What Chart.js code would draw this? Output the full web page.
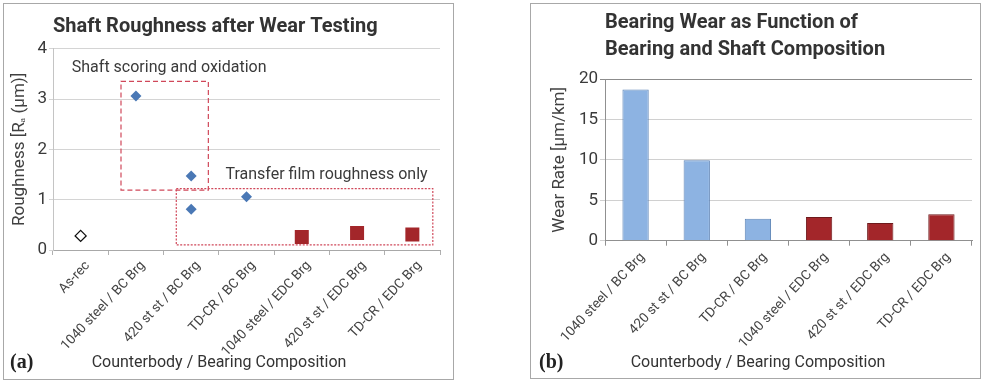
<!DOCTYPE html>
<html>
<head>
<meta charset="utf-8">
<script src="https://cdn.jsdelivr.net/npm/chart.js@4.4.1/dist/chart.umd.min.js"></script>
<style>
  body { margin: 0; width: 983px; height: 383px; background: #fff; position: relative; overflow: hidden; }
  .panel { position: absolute; border: 1px solid #a8a8a8; box-sizing: border-box; }
  #pa { left: 3px; top: 3px; width: 451px; height: 377px; }
  #pb { left: 530px; top: 3px; width: 451px; height: 376px; }
  .wrap { position: absolute; top: 0; height: 383px; }
</style>
</head>
<body>
<div class="panel" id="pa"></div>
<div class="panel" id="pb"></div>
<div class="wrap" style="left:0;width:490px"><canvas id="roughChart"></canvas></div>
<div class="wrap" style="left:490px;width:493px"><canvas id="wearChart"></canvas></div>
<script>
// (a) shaft roughness
const roughLabels = ["As-rec", "1040 steel / BC Brg", "420 st st / BC Brg", "TD-CR / BC Brg",
  "1040 steel / EDC Brg", "420 st st / EDC Brg", "TD-CR / EDC Brg"];
const asRecRough = [0.28, null, null, null, null, null, null];
const bcRough = [null, 3.06, 1.47, 1.06, null, null, null];
const bcRough2 = [null, null, 0.81, null, null, null, null];
const edcRough = [null, null, null, null, 0.26, 0.34, 0.31];
const roughTicks = [0, 1, 2, 3, 4];

// (b) bearing wear
const wearLabels = ["1040 steel / BC Brg", "420 st st / BC Brg", "TD-CR / BC Brg",
  "1040 steel / EDC Brg", "420 st st / EDC Brg", "TD-CR / EDC Brg"];
const wearRate = [18.7, 9.95, 2.72, 2.93, 2.19, 3.27];
const wearTicks = [0, 5, 10, 15, 20];

// dashed boxes on (a), in category index / roughness units
const roughNotes = [
  { text: "Shaft scoring and oxidation", x0: 0.73, x1: 2.31, y0: 1.19, y1: 3.35, tx: -0.16, ty: 3.62, dash: [5, 3] },
  { text: "Transfer film roughness only", x0: 1.73, x1: 6.37, y0: 0.1, y1: 1.22, tx: 2.62, ty: 1.49, dash: [2, 1.5] },
];

const SANS = "Roboto";
const BLUE = "#4a78b5", RED = "#a3262a", BAR_BLUE = "#8db3e2";

const notesPlugin = {
  id: "notes",
  afterDatasetsDraw(chart) {
    const { ctx, scales: { x, y } } = chart;
    roughNotes.forEach((n) => {
      const l = x.getPixelForValue(n.x0), r = x.getPixelForValue(n.x1);
      const t = y.getPixelForValue(n.y1), b = y.getPixelForValue(n.y0);
      ctx.save();
      ctx.strokeStyle = "#d0485a";
      ctx.lineWidth = 1.2;
      ctx.setLineDash(n.dash);
      ctx.strokeRect(l, t, r - l, b - t);
      ctx.setLineDash([]);
      ctx.font = `16px ${SANS}`;
      ctx.fillStyle = "#3a3a3a";
      ctx.textBaseline = "middle";
      ctx.fillText(n.text, x.getPixelForValue(n.tx), y.getPixelForValue(n.ty));
      ctx.restore();
    });
  },
};

// axis title under rotated labels + panel tag
const panelText = {
  id: "panelText",
  afterDraw(chart, args, opts) {
    const { ctx } = chart;
    ctx.save();
    ctx.textBaseline = "middle";
    ctx.fillStyle = "#333";
    ctx.textAlign = "center";
    ctx.font = `16px ${SANS}`;
    ctx.fillText(opts.title, opts.titleX, opts.y);
    ctx.textAlign = "left";
    ctx.fillStyle = "#222";
    ctx.font = "bold 20px 'Liberation Serif'";
    ctx.fillText(opts.tag, opts.tagX, opts.y);
    ctx.restore();
  },
};

const tickFont = { family: SANS, size: 17 };
const xTickFont = { family: SANS, size: 13.5 };

function pointSet(data, style, radius, fill, stroke, bw) {
  return {
    data, showLine: false, pointStyle: style, pointRadius: radius, pointHoverRadius: radius,
    pointBackgroundColor: fill, pointBorderColor: stroke, pointBorderWidth: bw,
  };
}

new Chart(document.getElementById("roughChart"), {
  type: "line",
  data: {
    labels: roughLabels,
    datasets: [
      pointSet(asRecRough, "rectRot", 5.5, "#fff", "#111", 1.3),
      pointSet(bcRough, "rectRot", 5.5, BLUE, BLUE, 0),
      pointSet(bcRough2, "rectRot", 5.5, BLUE, BLUE, 0),
      pointSet(edcRough, "rect", 9.9, RED, RED, 0),
    ],
  },
  options: {
    responsive: true,
    maintainAspectRatio: false,
    animation: false,
    layout: { padding: { top: 0, right: 50, bottom: 0, left: 0 } },
    plugins: {
      legend: { display: false },
      tooltip: { enabled: false },
      title: {
        display: true, text: "Shaft Roughness after Wear Testing", align: "start", fullSize: false,
        color: "#333", font: { family: SANS, size: 20, weight: "bold", lineHeight: 1.2 },
        padding: { top: 15, bottom: 9.7 },
      },
      panelText: { title: "Counterbody / Bearing Composition", titleX: 219, tag: "(a)", tagX: 10, y: 363 },
    },
    scales: {
      x: {
        offset: true,
        grid: { offset: true, drawOnChartArea: false, tickLength: 5, color: "#b0b0b0" },
        border: { color: "#a8a8a8" },
        ticks: { minRotation: 47, maxRotation: 47, padding: 3, labelOffset: 7, color: "#444", font: xTickFont },
        afterFit: (s) => { s.height = 133; },
      },
      y: {
        min: 0, max: 4,
        afterBuildTicks: (s) => { s.ticks = roughTicks.map((v) => ({ value: v })); },
        grid: { color: "#d4d4d4", tickLength: 4 },
        border: { color: "#c4c4c4" },
        ticks: { padding: 2, color: "#3a3a3a", font: tickFont },
        title: {
          display: true, text: "Roughness [R\u2090 (\u03bcm)]", color: "#404040",
          font: { family: SANS, size: 17, lineHeight: 1.2 }, padding: { top: 9.8, bottom: 0 },
        },
        afterFit: (s) => { s.width = 53; },
      },
    },
  },
  plugins: [notesPlugin, panelText],
});

new Chart(document.getElementById("wearChart"), {
  type: "bar",
  data: {
    labels: wearLabels,
    datasets: [{
      data: wearRate,
      backgroundColor: wearLabels.map((l) => (l.includes("EDC") ? RED : BAR_BLUE)),
      borderColor: wearLabels.map((l) => (l.includes("EDC") ? "#6e1a1c" : "#5d84b6")),
      borderWidth: 1,
      barPercentage: 0.43,
      categoryPercentage: 1,
    }],
  },
  options: {
    responsive: true,
    maintainAspectRatio: false,
    animation: false,
    layout: { padding: { top: 0, right: 11, bottom: 0, left: 50 } },
    plugins: {
      legend: { display: false },
      tooltip: { enabled: false },
      title: {
        display: true, text: ["Bearing Wear as Function of", "Bearing and Shaft Composition"],
        align: "start", fullSize: false, color: "#333",
        font: { family: SANS, size: 20, weight: "bold", lineHeight: 1.35 },
        padding: { top: 9.5, bottom: 15.5 },
      },
      panelText: { title: "Counterbody / Bearing Composition", titleX: 268, tag: "(b)", tagX: 49, y: 363 },
    },
    scales: {
      x: {
        offset: true,
        grid: { offset: true, drawOnChartArea: false, tickLength: 5, color: "#909090" },
        border: { color: "#909090" },
        ticks: { minRotation: 47, maxRotation: 47, padding: 4, labelOffset: 7, color: "#444", font: xTickFont },
        afterFit: (s) => { s.height = 142.3; },
      },
      y: {
        min: 0, max: 20,
        afterBuildTicks: (s) => { s.ticks = wearTicks.map((v) => ({ value: v })); },
        grid: { color: (c) => (c.tick && c.tick.value === 20 ? "#8c8c8c" : "#d0d0d0"), tickLength: 5 },
        border: { color: "#909090" },
        ticks: { padding: 2, color: "#3a3a3a", font: tickFont },
        title: {
          display: true, text: "Wear Rate [\u03bcm/km]", color: "#404040",
          font: { family: SANS, size: 17, lineHeight: 1.2 }, padding: { top: 9.8, bottom: 0 },
        },
        afterFit: (s) => { s.width = 65; },
      },
    },
  },
  plugins: [panelText],
});
</script>
</body>
</html>
